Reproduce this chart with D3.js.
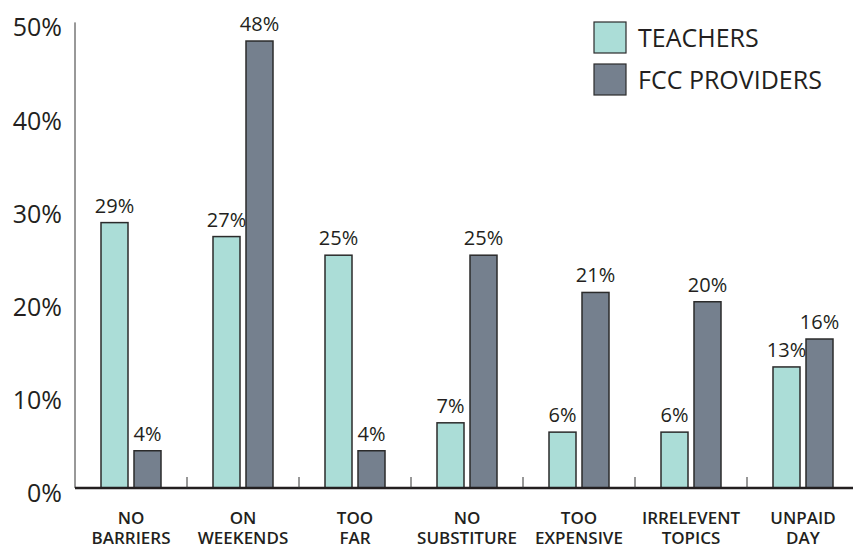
<!DOCTYPE html>
<html>
<head>
<meta charset="utf-8">
<script src="https://cdn.jsdelivr.net/npm/d3@7"></script>
<style>
  body { margin: 0; background: #fff; }
  text { font-family: "Open Sans", "Noto Sans", sans-serif; fill: #231f20; }
</style>
</head>
<body>
<div id="chart"></div>
<script>
// categories (two lines each)
var categories = [
    ["NO", "BARRIERS"], ["ON", "WEEKENDS"], ["TOO", "FAR"], ["NO", "SUBSTITURE"],
    ["TOO", "EXPENSIVE"], ["IRRELEVENT", "TOPICS"], ["UNPAID", "DAY"]
];
var teachers = [28.5, 27, 25, 7, 6, 6, 13];
var providers = [4, 48, 4, 25, 21, 20, 16];
var seriesNames = ["TEACHERS", "FCC PROVIDERS"];
var colors = ["#abddd7", "#75808e"];
var yTicks = [0, 10, 20, 30, 40, 50];

var width = 853, height = 546;
var x0 = 75, baseY = 488;

var svg = d3.select('#chart').append('svg')
        .attr('width', width)
        .attr('height', height);

var x = d3.scaleBand()
        .domain(d3.range(categories.length))
        .range([x0, x0 + 112 * categories.length]);
var y = d3.scaleLinear().domain([0, 50]).range([baseY, 22.4]);

var barW = 27, gap = 6;
var inner = d3.scaleBand().domain([0, 1])
        .range([0, barW * 2 + gap]).paddingInner(gap / (barW + gap));

// y axis line
svg.append('line')
        .attr('x1', x0).attr('x2', x0)
        .attr('y1', y(50)).attr('y2', baseY)
        .attr('stroke', '#333').attr('stroke-width', 1);

// y tick labels
svg.selectAll('text.ytick')
        .data(yTicks).enter()
        .append('text')
        .attr('class', 'ytick')
        .attr('x', 62)
        .attr('y', (d) => y(d) + 14)
        .attr('text-anchor', 'end')
        .style('font-size', '25px')
        .text((d) => d + '%');

// bars
var series = [teachers, providers];
var grp = svg.selectAll('g.cat')
        .data(categories).enter()
        .append('g')
        .attr('class', 'cat')
        .attr('transform', (d, i) =>
            'translate(' + (x(i) + (x.bandwidth() - (barW * 2 + gap)) / 2) + ',0)'
        );

grp.selectAll('rect')
        .data((d, i) => series.map((s) => s[i]))
        .enter()
        .append('rect')
        .attr('x', (d, j) => inner(j))
        .attr('width', inner.bandwidth())
        .attr('y', (d) => y(d))
        .attr('height', (d) => baseY - y(d))
        .style('fill', (d, j) => colors[j])
        .style('stroke', '#2b2b2b')
        .style('stroke-width', 1.5);

grp.selectAll('text.val')
        .data((d, i) => series.map((s) => s[i]))
        .enter()
        .append('text')
        .attr('class', 'val')
        .attr('x', (d, j) => inner(j) + inner.bandwidth() / 2)
        .attr('y', (d) => y(d) - 10)
        .attr('text-anchor', 'middle')
        .style('font-size', '20px')
        .text((d) => d3.format('.0f')(d) + '%');

// baseline + ticks between categories
svg.append('line')
        .attr('x1', x0).attr('x2', width)
        .attr('y1', baseY).attr('y2', baseY)
        .attr('stroke', '#231f20').attr('stroke-width', 2.5);

svg.selectAll('line.tick')
        .data(d3.range(1, categories.length)).enter()
        .append('line')
        .attr('class', 'tick')
        .attr('x1', (d) => x(d)).attr('x2', (d) => x(d))
        .attr('y1', baseY - 11).attr('y2', baseY)
        .attr('stroke', '#333').attr('stroke-width', 1);

// category labels
var lab = svg.selectAll('text.cat')
        .data(categories).enter()
        .append('text')
        .attr('class', 'cat')
        .attr('text-anchor', 'middle')
        .style('font-size', '17px')
        .style('font-weight', 600);
lab.selectAll('tspan')
        .data((d, i) => d.map((t) => ({ t: t, i: i })))
        .enter()
        .append('tspan')
        .attr('x', (d) => x(d.i) + x.bandwidth() / 2)
        .attr('y', (d, k) => 524 + k * 20)
        .text((d) => d.t);

// legend
var leg = svg.selectAll('g.legend')
        .data(seriesNames).enter()
        .append('g')
        .attr('class', 'legend')
        .attr('transform', (d, i) => 'translate(594,' + (22 + i * 42) + ')');
leg.append('rect')
        .attr('width', 32).attr('height', 31)
        .style('fill', (d, i) => colors[i])
        .style('stroke', '#2b2b2b')
        .style('stroke-width', 1.2);
leg.append('text')
        .attr('x', 44).attr('y', 25)
        .style('font-size', '25px')
        .text((d) => d);
</script>
</body>
</html>
